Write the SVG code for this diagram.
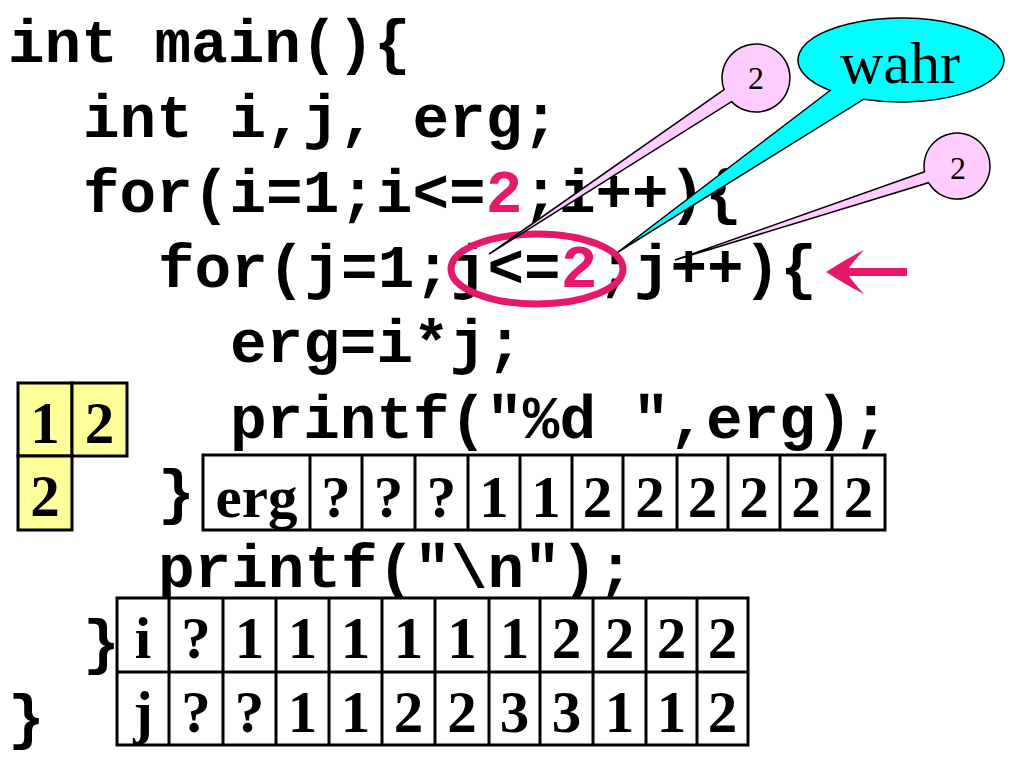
<svg xmlns="http://www.w3.org/2000/svg" width="1024" height="768" viewBox="0 0 1024 768">
<style>
.code{font-family:"Liberation Mono","Courier New",monospace;font-weight:bold;font-size:61px;fill:#000}
.red{fill:#E6186C}
.cell{fill:#fff;stroke:#000;stroke-width:3}
.ycell{fill:#FFFF99;stroke:#000;stroke-width:3}
.val{font-family:"Liberation Serif","Times New Roman",serif;font-weight:bold;font-size:59px;text-anchor:middle;fill:#000}
.ctext{font-family:"Liberation Serif","Times New Roman",serif;text-anchor:middle;fill:#000}
.pink{fill:#FFCCFF;stroke:#000;stroke-width:1.5}
.cyan{fill:#00FFFF;stroke:#000;stroke-width:1.5}
</style>
<rect width="1024" height="768" fill="#fff"/>
<g id="code" class="code" xml:space="preserve">
<text x="8" y="62">int main(){</text>
<text x="83" y="137">int i,j, erg;</text>
<text x="83" y="212">for(i=1;i&lt;=<tspan class="red">2</tspan>;i++){</text>
<text x="158" y="287">for(j=1;j&lt;=<tspan class="red">2</tspan>;j++){</text>
<text x="230" y="362">erg=i*j;</text>
<text x="230" y="438">printf("%d ",erg);</text>
<text x="158" y="512">}</text>
<text x="158" y="587">printf("\n");</text>
<text x="83" y="662">}</text>
<text x="8" y="737">}</text>
</g>
<g id="highlight">
<ellipse cx="537" cy="269" rx="86" ry="35" fill="none" stroke="#E6186C" stroke-width="7"/>
</g>
<g id="arrow">
<path d="M826,272 Q846,259 864,250 Q853,262 849,268 L907,268 L907,276 L849,276 Q853,282 864,294 Q846,285 826,272 Z" fill="#E6186C"/>
</g>
<g id="callout-i">
<path class="pink" d="M724.05,89.63 L489,254 L731.54,101.62 A34,34 0 1 0 724.05,89.63 Z"/>
<text class="ctext" x="756" y="89" font-size="32">2</text>
</g>
<g id="callout-wahr">
<path class="cyan" d="M830.1,90.5 L618,252 L863.8,99.2 A103,42 0 1 0 830.1,90.5 Z"/>
<text class="ctext" x="900" y="83" font-size="60">wahr</text>
</g>
<g id="callout-j">
<path class="pink" d="M924.5,171.7 L675,260 L928.5,182.7 A33,33 0 1 0 924.5,171.7 Z"/>
<text class="ctext" x="958" y="179" font-size="32">2</text>
</g>
<g id="output">
<rect class="ycell" x="18" y="383" width="54" height="73"/>
<rect class="ycell" x="72" y="383" width="55" height="73"/>
<rect class="ycell" x="18" y="456" width="54" height="74"/>
<text class="val" x="45" y="443" font-size="57">1</text>
<text class="val" x="99.5" y="443" font-size="57">2</text>
<text class="val" x="45" y="516" font-size="57">2</text>
</g>
<g id="erg-table">
<rect class="cell" x="203" y="455" width="682" height="75"/>
<path d="M310,455V530M362,455V530M415,455V530M468,455V530M520,455V530M572,455V530M623,455V530M677,455V530M728,455V530M780,455V530M832,455V530" stroke="#000" stroke-width="3" fill="none"/>
<g class="val">
<text x="256.5" y="517">erg</text>
<text x="336" y="517">?</text>
<text x="388.5" y="517">?</text>
<text x="441.5" y="517">?</text>
<text x="494" y="517">1</text>
<text x="546" y="517">1</text>
<text x="597.5" y="517">2</text>
<text x="650" y="517">2</text>
<text x="702.5" y="517">2</text>
<text x="754" y="517">2</text>
<text x="806" y="517">2</text>
<text x="858.5" y="517">2</text>
</g>
</g>
<g id="ij-table">
<rect class="cell" x="117" y="598" width="631" height="147"/>
<path d="M117,672H748M169,598V745M223,598V745M276,598V745M329,598V745M382,598V745M435,598V745M489,598V745M540,598V745M593,598V745M646,598V745M697,598V745" stroke="#000" stroke-width="3" fill="none"/>
<g class="val" font-size="57">
<text x="143" y="658">i</text>
<text x="196" y="658">?</text>
<text x="249.5" y="658">1</text>
<text x="302.5" y="658">1</text>
<text x="355.5" y="658">1</text>
<text x="408.5" y="658">1</text>
<text x="462" y="658">1</text>
<text x="514.5" y="658">1</text>
<text x="566.5" y="658">2</text>
<text x="619.5" y="658">2</text>
<text x="671.5" y="658">2</text>
<text x="722.5" y="658">2</text>
<text x="143" y="732">j</text>
<text x="196" y="732">?</text>
<text x="249.5" y="732">?</text>
<text x="302.5" y="732">1</text>
<text x="355.5" y="732">1</text>
<text x="408.5" y="732">2</text>
<text x="462" y="732">2</text>
<text x="514.5" y="732">3</text>
<text x="566.5" y="732">3</text>
<text x="619.5" y="732">1</text>
<text x="671.5" y="732">1</text>
<text x="722.5" y="732">2</text>
</g>
</g>
</svg>
